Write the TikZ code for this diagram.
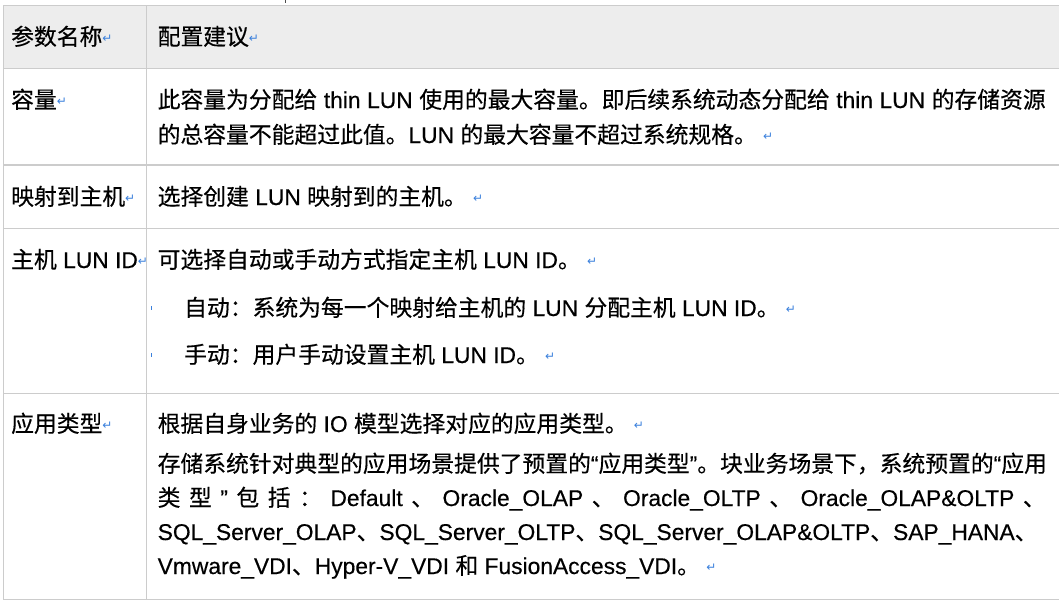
\documentclass[tikz,border=0pt]{standalone}
\usepackage{fontspec}
\setmainfont{Liberation Sans}[FakeBold=0.4]
\newfontfamily\zh{Noto Sans CJK SC}[FakeBold=0.4]
\newfontfamily\symfont{DejaVu Sans}
\definecolor{gridgray}{HTML}{CCCCCC}
\definecolor{headgray}{HTML}{EDEDED}
\definecolor{retblue}{HTML}{3A80DC}
\newcommand{\ret}{\raisebox{2.5pt}{\symfont\fontsize{12}{12}\selectfont\color{retblue}↵}}

\tikzset{
  cell/.style={anchor=base west, inner sep=0pt, font=\fontsize{22.8}{26}\selectfont},
  rule/.style={draw=gridgray, line width=1.3pt},
}

\begin{document}
\begin{tikzpicture}[x=1pt,y=-1pt]
      \useasboundingbox (0,0) rectangle (1059,603);
      % header band and grid
      \fill[headgray] (3.7,5.3) rectangle (1059,68.3);
      \draw[rule] (1059,5.3) -- (3.7,5.3) -- (3.7,599.3) -- (1059,599.3);
      \foreach \y in {68.3,165,228.7,393.3}
        \draw[rule] (3.7,\y) -- (1059,\y);
      \draw[rule] (146.7,5.3) -- (146.7,599.3);
      \draw[black!70, line width=0.8pt] (285.7,0) -- (285.7,3);
      \draw[retblue, line width=0.8pt] (151.7,306) -- (151.7,310);
      \draw[retblue, line width=0.8pt] (151.7,353) -- (151.7,357);

      % header
      \node[cell] (name) at (11,45) {{\zh 参数名称}\ret};
      \node[cell] (advice) at (157.5,45) {{\zh 配置建议}\ret};

      % capacity
      \node[cell] (cap) at (11,108) {{\zh 容量}\ret};
      \node[cell] (capa) at (157.5,108) {\makebox[888pt][s]{{\zh 此容量为分配给} thin LUN {\zh 使用的最大容量。即后续系统动态分配给} thin LUN {\zh 的存储资源}}};
      \node[cell] (capb) at (157.5,143) {{\zh 的总容量不能超过此值。}LUN {\zh 的最大容量不超过系统规格。} \ret};

      % mapping
      \node[cell] (map) at (11,205) {{\zh 映射到主机}\ret};
      \node[cell] (mapa) at (157.5,205) {{\zh 选择创建} LUN {\zh 映射到的主机。} \ret};

      % host LUN ID
      \node[cell] (hid) at (11,268) {{\zh 主机} LUN ID\ret};
      \node[cell] (hida) at (157.5,268) {{\zh 可选择自动或手动方式指定主机} LUN ID{\zh 。} \ret};
      \node[cell] (hidb) at (184,316) {{\zh 自动：系统为每一个映射给主机的} LUN {\zh 分配主机} LUN ID{\zh 。} \ret};
      \node[cell] (hidc) at (184,363) {{\zh 手动：用户手动设置主机} LUN ID{\zh 。} \ret};

      % application type
      \node[cell] (app) at (11,432) {{\zh 应用类型}\ret};
      \node[cell] (appa) at (157.5,432) {{\zh 根据自身业务的} IO {\zh 模型选择对应的应用类型。} \ret};
      \node[cell] (appb) at (157.5,472) {{\zh 存储系统针对典型的应用场景提供了预置的}“{\zh 应用类型}”{\zh 。块业务场景下，系统预置的}“{\zh 应用}};
      \node[cell] (appc) at (157.5,506) {\makebox[888pt][s]{{\zh 类}\hfill{\zh 型}\hfill ”\hfill{\zh 包}\hfill{\zh 括}\hfill{\zh ：}\hfill Default\hfill{\zh 、}\hfill Oracle\_OLAP\hfill{\zh 、}\hfill Oracle\_OLTP\hfill{\zh 、}\hfill Oracle\_OLAP\&OLTP\hfill{\zh 、}}};
      \node[cell] (appd) at (157.5,540) {SQL\_Server\_OLAP{\zh 、}SQL\_Server\_OLTP{\zh 、}SQL\_Server\_OLAP\&OLTP{\zh 、}SAP\_HANA{\zh 、}};
      \node[cell] (appe) at (157.5,574) {Vmware\_VDI{\zh 、}Hyper-V\_VDI {\zh 和} FusionAccess\_VDI{\zh 。} \ret};
\end{tikzpicture}
\end{document}
